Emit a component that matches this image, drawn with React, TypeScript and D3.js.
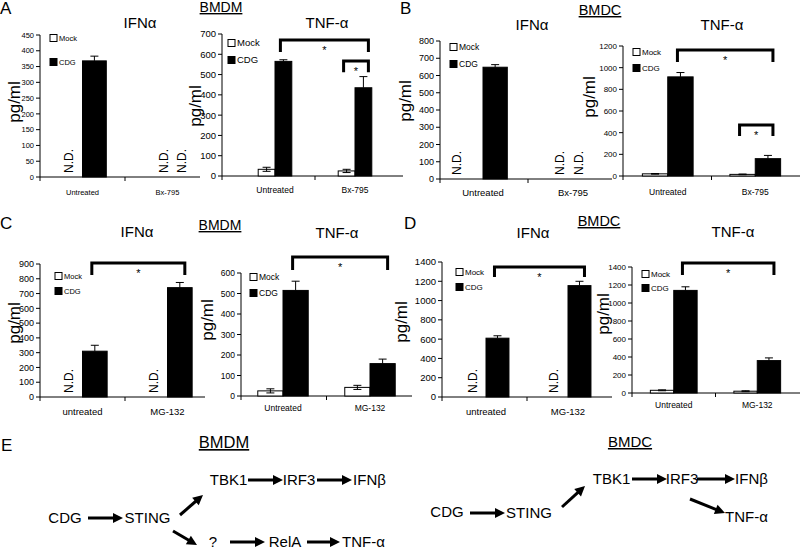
import React from "react";
import * as d3 from "d3";

const FONT = "'Liberation Sans', Arial, Helvetica, sans-serif";

const seriesNames = ["Mock", "CDG"];
const catsBx = ["Untreated", "Bx-795"];
const catsMgLower = ["untreated", "MG-132"];
const catsMgUpper = ["Untreated", "MG-132"];

// A: BMDM, Bx-795
const aIfnTicks = [0, 50, 100, 150, 200, 250, 300, 350, 400, 450];
const aIfnMock: (number | null)[] = [null, null];
const aIfnMockErr = [0, 0];
const aIfnCdg: (number | null)[] = [368, null];
const aIfnCdgErr = [15, 0];

const aTnfTicks = [0, 100, 200, 300, 400, 500, 600, 700];
const aTnfMock: (number | null)[] = [33, 25];
const aTnfMockErr = [10, 8];
const aTnfCdg: (number | null)[] = [565, 435];
const aTnfCdgErr = [8, 55];
const aTnfBrackets = [
  { a: [0, 1], b: [1, 1], top: 670, leg: 611 },
  { a: [1, 0], b: [1, 1], top: 567, leg: 512 },
];

// B: BMDC, Bx-795
const bIfnTicks = [0, 100, 200, 300, 400, 500, 600, 700, 800];
const bIfnMock: (number | null)[] = [null, null];
const bIfnMockErr = [0, 0];
const bIfnCdg: (number | null)[] = [648, null];
const bIfnCdgErr = [15, 0];

const bTnfTicks = [0, 200, 400, 600, 800, 1000, 1200];
const bTnfMock: (number | null)[] = [20, 15];
const bTnfMockErr = [3, 3];
const bTnfCdg: (number | null)[] = [915, 160];
const bTnfCdgErr = [40, 30];
const bTnfBrackets = [
  { a: [0, 1], b: [1, 1], top: 1163, leg: 1052 },
  { a: [1, 0], b: [1, 1], top: 471, leg: 369 },
];

// C: BMDM, MG-132
const cIfnTicks = [0, 100, 200, 300, 400, 500, 600, 700, 800, 900];
const cIfnMock: (number | null)[] = [null, null];
const cIfnMockErr = [0, 0];
const cIfnCdg: (number | null)[] = [310, 740];
const cIfnCdgErr = [40, 35];
const cIfnBrackets = [{ a: [0, 1], b: [1, 1], top: 907, leg: 825 }];

const cTnfTicks = [0, 100, 200, 300, 400, 500, 600];
const cTnfMock: (number | null)[] = [25, 42];
const cTnfMockErr = [10, 10];
const cTnfCdg: (number | null)[] = [515, 158];
const cTnfCdgErr = [45, 22];
const cTnfBrackets = [{ a: [0, 1], b: [1, 1], top: 678, leg: 615 }];

// D: BMDC, MG-132
const dIfnTicks = [0, 200, 400, 600, 800, 1000, 1200, 1400];
const dIfnMock: (number | null)[] = [null, null];
const dIfnMockErr = [0, 0];
const dIfnCdg: (number | null)[] = [610, 1155];
const dIfnCdgErr = [25, 45];
const dIfnBrackets = [{ a: [0, 1], b: [1, 1], top: 1348, leg: 1244 }];

const dTnfTicks = [0, 200, 400, 600, 800, 1000, 1200, 1400];
const dTnfMock: (number | null)[] = [30, 20];
const dTnfMockErr = [5, 5];
const dTnfCdg: (number | null)[] = [1140, 360];
const dTnfCdgErr = [40, 30];
const dTnfBrackets = [{ a: [0, 1], b: [1, 1], top: 1444, leg: 1311 }];

type Bracket = { a: number[]; b: number[]; top: number; leg: number };
type Panel = {
  title: string;
  cats: string[];
  ticks: number[];
  mock: (number | null)[];
  mockErr: number[];
  cdg: (number | null)[];
  cdgErr: number[];
  brackets: Bracket[];
  L: any;
};

const panels: Panel[] = [
  {
    title: "IFNα", cats: catsBx, ticks: aIfnTicks, mock: aIfnMock, mockErr: aIfnMockErr,
    cdg: aIfnCdg, cdgErr: aIfnCdgErr, brackets: [],
    L: { x0: 40, x1: 200, bx0: 40, bx1: 210, yTop: 35, yBot: 177, barFrac: 0.28, tickFont: 7.5, catFont: 7.5, catY: 195,
      title: [140, 28], ylab: [15, 102], legend: [50, 38, 24, 7.5], nd: [[-2.5, 0], [7.5, 2.5]] },
  },
  {
    title: "TNF-α", cats: catsBx, ticks: aTnfTicks, mock: aTnfMock, mockErr: aTnfMockErr,
    cdg: aTnfCdg, cdgErr: aTnfCdgErr, brackets: aTnfBrackets,
    L: { x0: 222, x1: 403, bx0: 235, bx1: 395, yTop: 34, yBot: 176, barFrac: 0.21, tickFont: 9.5, catFont: 8.5, catY: 193,
      title: [327, 28], ylab: [196, 106], legend: [228, 43, 17, 9.5], nd: [[0, 0], [0, 0]] },
  },
  {
    title: "IFNα", cats: catsBx, ticks: bIfnTicks, mock: bIfnMock, mockErr: bIfnMockErr,
    cdg: bIfnCdg, cdgErr: bIfnCdgErr, brackets: [],
    L: { x0: 440, x1: 612, bx0: 438, bx1: 618, yTop: 41, yBot: 179, barFrac: 0.27, tickFont: 9, catFont: 9.5, catY: 196,
      title: [532, 30], ylab: [406, 101], legend: [450, 47, 17, 8.5], nd: [[-14, 0], [-1, -7]] },
  },
  {
    title: "TNF-α", cats: catsBx, ticks: bTnfTicks, mock: bTnfMock, mockErr: bTnfMockErr,
    cdg: bTnfCdg, cdgErr: bTnfCdgErr, brackets: bTnfBrackets,
    L: { x0: 623, x1: 800, bx0: 624, bx1: 799, yTop: 46, yBot: 176, barFrac: 0.29, tickFont: 8, catFont: 8.5, catY: 195,
      title: [722, 30], ylab: [590, 97], legend: [633, 52, 16, 8], nd: [[0, 0], [0, 0]] },
  },
  {
    title: "IFNα", cats: catsMgLower, ticks: cIfnTicks, mock: cIfnMock, mockErr: cIfnMockErr,
    cdg: cIfnCdg, cdgErr: cIfnCdgErr, brackets: cIfnBrackets,
    L: { x0: 40, x1: 205, bx0: 40, bx1: 210, yTop: 264, yBot: 397, barFrac: 0.29, tickFont: 9, catFont: 9.5, catY: 415,
      title: [137, 237], ylab: [15, 323], legend: [55, 276, 15, 7.5], nd: [[-2, 0], [-2, 0]] },
  },
  {
    title: "TNF-α", cats: catsMgUpper, ticks: cTnfTicks, mock: cTnfMock, mockErr: cTnfMockErr,
    cdg: cTnfCdg, cdgErr: cTnfCdgErr, brackets: cTnfBrackets,
    L: { x0: 241, x1: 412, bx0: 239.5, bx1: 413.5, yTop: 273, yBot: 396, barFrac: 0.29, tickFont: 8.5, catFont: 8.5, catY: 411,
      title: [337, 238], ylab: [208, 320], legend: [250, 277, 16, 8.5], nd: [[0, 0], [0, 0]] },
  },
  {
    title: "IFNα", cats: catsMgLower, ticks: dIfnTicks, mock: dIfnMock, mockErr: dIfnMockErr,
    cdg: dIfnCdg, cdgErr: dIfnCdgErr, brackets: dIfnBrackets,
    L: { x0: 442, x1: 612, bx0: 445, bx1: 609, yTop: 262, yBot: 397, barFrac: 0.28, tickFont: 9.5, catFont: 9.5, catY: 415,
      title: [533, 238], ylab: [402, 322], legend: [456, 272, 15, 8], nd: [[-2.5, 0], [-3.5, 0]] },
  },
  {
    title: "TNF-α", cats: catsMgUpper, ticks: dTnfTicks, mock: dTnfMock, mockErr: dTnfMockErr,
    cdg: dTnfCdg, cdgErr: dTnfCdgErr, brackets: dTnfBrackets,
    L: { x0: 632, x1: 800, bx0: 632, bx1: 799, yTop: 267, yBot: 393, barFrac: 0.28, tickFont: 8, catFont: 8.5, catY: 408,
      title: [733, 237], ylab: [604, 314], legend: [642, 274, 14, 8], nd: [[0, 0], [0, 0]] },
  },
];

// Panel letters and group labels
const panelLetters = [
  { t: "A", x: 0, y: 14 }, { t: "B", x: 400, y: 14 },
  { t: "C", x: 0, y: 229 }, { t: "D", x: 404, y: 229 }, { t: "E", x: 1, y: 451 },
];
const groupLabels = [
  { t: "BMDM", x: 221, y: 12, f: 14 }, { t: "BMDC", x: 600, y: 15, f: 14.5 },
  { t: "BMDM", x: 220, y: 230, f: 14 }, { t: "BMDC", x: 599, y: 226, f: 14.5 },
  { t: "BMDM", x: 224, y: 448, f: 16.5 }, { t: "BMDC", x: 630, y: 447, f: 15 },
];

// Pathway diagram (panel E)
const pathNodes = [
  { t: "CDG", x: 65, y: 523 }, { t: "STING", x: 147.5, y: 523 },
  { t: "TBK1", x: 228.5, y: 485 }, { t: "IRF3", x: 299, y: 485 }, { t: "IFNβ", x: 369.5, y: 485 },
  { t: "?", x: 213, y: 547 }, { t: "RelA", x: 285, y: 547 }, { t: "TNF-α", x: 363.5, y: 547 },
  { t: "CDG", x: 447, y: 517 }, { t: "STING", x: 529, y: 518 },
  { t: "TBK1", x: 611.5, y: 484 }, { t: "IRF3", x: 682, y: 484 }, { t: "IFNβ", x: 751.5, y: 484 },
  { t: "TNF-α", x: 746.5, y: 522 },
];
const pathArrows = [
  [88, 518, 123, 518], [180, 515, 203, 495], [173, 531, 197, 545],
  [248, 480, 283, 480], [317, 480, 352, 480],
  [230, 542, 265, 542], [307, 542, 340, 542],
  [470, 513, 505, 513], [562, 507, 585, 486],
  [632, 479, 667, 479], [697, 479, 735, 479], [690, 499, 725, 513],
];

function Arrow({ a }: { a: number[] }) {
  const [x1, y1, x2, y2] = a;
  const ang = Math.atan2(y2 - y1, x2 - x1);
  const hl = 10, hw = 5;
  const bx = x2 - hl * Math.cos(ang), by = y2 - hl * Math.sin(ang);
  const nx = -Math.sin(ang), ny = Math.cos(ang);
  const pts = [[x2, y2], [bx + nx * hw, by + ny * hw], [bx - nx * hw, by - ny * hw]];
  return (
    <g>
      <line x1={x1} y1={y1} x2={bx + Math.cos(ang) * 2} y2={by + Math.sin(ang) * 2} stroke="#000" strokeWidth={3} />
      <polygon points={pts.map((p) => p.join(",")).join(" ")} fill="#000" />
    </g>
  );
}

function BarPanel({ p }: { p: Panel }) {
  const L = p.L;
  const y = d3.scaleLinear().domain([0, p.ticks[p.ticks.length - 1]]).range([L.yBot, L.yTop]);
  const x = d3.scaleBand<string>().domain(p.cats).range([L.bx0, L.bx1]).padding(0);
  const bw = x.step() * L.barFrac;
  const cx = (g: number, s: number) => (x(p.cats[g]) as number) + x.bandwidth() / 2 + (s === 0 ? -bw / 2 : bw / 2);
  const series = [
    { vals: p.mock, errs: p.mockErr, fill: "#fff" },
    { vals: p.cdg, errs: p.cdgErr, fill: "#000" },
  ];
  const boundary = (x(p.cats[1]) as number);
  const [lx, ly, lgap, lf] = L.legend;
  return (
    <g fontFamily={FONT}>
      <text x={L.title[0]} y={L.title[1]} fontSize={15} textAnchor="middle">{p.title}</text>
      <text transform={`translate(${L.ylab[0] + 5},${L.ylab[1]}) rotate(-90)`} fontSize={17} textAnchor="middle">pg/ml</text>
      <line x1={L.x0} x2={L.x0} y1={L.yBot} y2={L.yTop} stroke="#000" strokeWidth={1} />
      {p.ticks.map((t) => (
        <g key={t}>
          <line x1={L.x0 - 4} x2={L.x0} y1={y(t)} y2={y(t)} stroke="#000" />
          <text x={L.x0 - 6} y={y(t) + L.tickFont * 0.36} fontSize={L.tickFont} textAnchor="end">{t}</text>
        </g>
      ))}
      <line x1={L.x0} x2={L.x1} y1={L.yBot} y2={L.yBot} stroke="#000" />
      {[L.x0, boundary].map((t, i) => (
        <line key={i} x1={t} x2={t} y1={L.yBot} y2={L.yBot + 4} stroke="#000" />
      ))}
      {p.cats.map((c) => (
        <text key={c} x={(x(c) as number) + x.bandwidth() / 2} y={L.catY} fontSize={L.catFont} textAnchor="middle">{c}</text>
      ))}
      {series.map((s, si) =>
        s.vals.map((v, g) => {
          const c = cx(g, si);
          if (v === null) {
            const tx = c + L.nd[g][si] + 4.5;
            const ty = L.yBot - 4;
            return (
              <text key={`${si}-${g}`} transform={`translate(${tx},${ty}) rotate(-90)`} fontSize={12}>N.D.</text>
            );
          }
          const e = s.errs[g];
          return (
            <g key={`${si}-${g}`}>
              <rect x={c - bw / 2} y={y(v)} width={bw} height={L.yBot - y(v)} fill={s.fill} stroke="#000" strokeWidth={1} />
              {e > 0 && (
                <g stroke="#000" strokeWidth={1}>
                  <line x1={c} x2={c} y1={y(v + e)} y2={y(si === 0 ? Math.max(v - e, 0) : v)} />
                  <line x1={c - 4} x2={c + 4} y1={y(v + e)} y2={y(v + e)} />
                  {si === 0 && <line x1={c - 4} x2={c + 4} y1={y(Math.max(v - e, 0))} y2={y(Math.max(v - e, 0))} />}
                </g>
              )}
            </g>
          );
        })
      )}
      {p.brackets.map((b, i) => {
        const xa = cx(b.a[0], b.a[1]) - 3;
        const xb = cx(b.b[0], b.b[1]) + 5;
        const yt = y(b.top), yl = y(b.leg);
        return (
          <g key={i}>
            <path d={`M${xa},${yl}V${yt}H${xb}V${yl}`} fill="none" stroke="#000" strokeWidth={3} />
            <text x={(xa + xb) / 2} y={yt + 8 + 6.4} fontSize={11} textAnchor="middle">*</text>
          </g>
        );
      })}
      {seriesNames.map((n, i) => (
        <g key={n}>
          <rect x={lx} y={ly + i * lgap - 3.5} width={7} height={7} fill={i === 0 ? "#fff" : "#000"} stroke="#000" />
          <text x={lx + 9} y={ly + i * lgap + lf * 0.36} fontSize={lf}>{n}</text>
        </g>
      ))}
    </g>
  );
}

export default function App() {
  return (
    <svg width={800} height={551} style={{ position: "absolute", left: 0, top: 0, background: "#fff" }} fontFamily={FONT}>
      <rect x={0} y={0} width={800} height={551} fill="#fff" />
      {panels.map((p, i) => <BarPanel key={i} p={p} />)}
      {panelLetters.map((l) => (
        <text key={l.t} x={l.x} y={l.y} fontSize={17}>{l.t}</text>
      ))}
      {groupLabels.map((g, i) => (
        <text key={i} x={g.x} y={g.y} fontSize={g.f} textAnchor="middle" style={{ textDecoration: "underline" }}>{g.t}</text>
      ))}
      {pathNodes.map((n, i) => (
        <text key={i} x={n.x} y={n.y} fontSize={15} textAnchor="middle">{n.t}</text>
      ))}
      {pathArrows.map((a, i) => <Arrow key={i} a={a} />)}
    </svg>
  );
}
